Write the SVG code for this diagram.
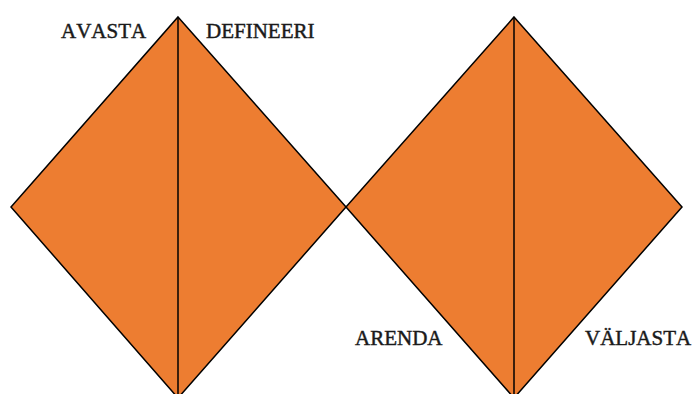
<svg xmlns="http://www.w3.org/2000/svg" width="696" height="394" viewBox="0 0 696 394">
<style>
.d{fill:#ED7D31;stroke:#000;stroke-width:1.5;stroke-linejoin:miter}
.l{stroke:#000;stroke-width:1.5}
.t{font-family:"Liberation Serif","Times New Roman",serif;font-size:21px;fill:#1a1a1a;stroke:#1a1a1a;stroke-width:0.45;font-kerning:none}
</style>
<rect width="696" height="394" fill="#fff"/>
<g id="diamond-left">
<polygon class="d" points="178,17 346,207 178,398 11,207"/>
<line class="l" x1="178" y1="17" x2="178" y2="398"/>
</g>
<g id="diamond-right">
<polygon class="d" points="514,17 682,207 514,398 346,207"/>
<line class="l" x1="514" y1="17" x2="514" y2="398"/>
</g>
<g id="label-avasta"><text class="t" x="61" y="38">AVASTA</text></g>
<g id="label-defineeri"><text class="t" x="206" y="38">DEFINEERI</text></g>
<g id="label-arenda"><text class="t" x="355" y="345">ARENDA</text></g>
<g id="label-valjasta"><text class="t" x="585" y="345">VÄLJASTA</text></g>
</svg>
